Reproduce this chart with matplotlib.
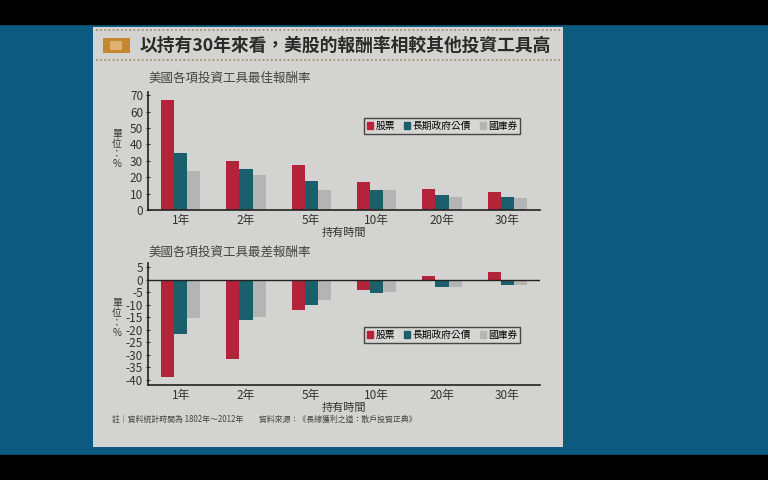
import matplotlib
matplotlib.use("Agg")
import matplotlib.pyplot as plt
from matplotlib.patches import Rectangle, Patch
from matplotlib.lines import Line2D
import numpy as np

plt.rcParams['font.family'] = ['Noto Sans CJK TC', 'DejaVu Sans']
plt.rcParams['axes.unicode_minus'] = False

periods = ['1年', '2年', '5年', '10年', '20年', '30年']
series = ['股票', '長期政府公債', '國庫券']
best_stock = [67, 30, 27.5, 17, 13, 11]
best_bond = [35, 25, 18, 12.5, 9, 8]
best_bill = [24, 21.5, 12, 12, 8, 7.5]
worst_stock = [-39, -31.5, -12, -4, 1.5, 3]
worst_bond = [-21.5, -16, -10, -5.5, -3, -2]
worst_bill = [-15.5, -15, -8, -5, -3, -2]
best_ticks = [0, 10, 20, 30, 40, 50, 60, 70]
worst_ticks = [5, 0, -5, -10, -15, -20, -25, -30, -35, -40]

title = '以持有30年來看，美股的報酬率相較其他投資工具高'
sub1 = '美國各項投資工具最佳報酬率'
sub2 = '美國各項投資工具最差報酬率'
note = '註｜資料統計時間為 1802年～2012年　　資料來源：《長線獲利之道：散戶投資正典》'

colors = ['#b3243a', '#1c5f6c', '#b4b4b4']
W, H = 768, 480
fig = plt.figure(figsize=(W / 100, H / 100), dpi=100)
fig.patch.set_facecolor('#0c5a80')

def fx(x):
    return x / W

def fy(y):
    return 1 - y / H

# black bars
fig.patches.append(Rectangle((0, fy(24)), 1, 24 / H, transform=fig.transFigure, color='black', zorder=-2))
fig.patches.append(Rectangle((0, 0), 1, (H - 455) / H, transform=fig.transFigure, color='black', zorder=-2))
# slide panel
fig.patches.append(Rectangle((fx(93), fy(447)), (563 - 93) / W, (447 - 27) / H,
                             transform=fig.transFigure, facecolor='#d3d3d1', edgecolor='none', zorder=-2))
# dotted lines
for yy in (30, 60):
    fig.add_artist(Line2D([fx(96), fx(560)], [fy(yy), fy(yy)], transform=fig.transFigure,
                          color='#a08868', lw=1.2, linestyle=(0, (1, 1.5))))
# icon
fig.patches.append(Rectangle((fx(103), fy(53)), 27 / W, 15 / H, transform=fig.transFigure,
                             facecolor='#c4862e', edgecolor='none', zorder=1))
fig.patches.append(Rectangle((fx(110), fy(50)), 12 / W, 9 / H, transform=fig.transFigure,
                             facecolor='#e0b070', edgecolor='none', zorder=2))
fig.text(fx(140), fy(46), title, fontsize=12.8, fontweight='bold', color='#2a2a2a', va='center', ha='left')

x = np.arange(len(periods))
bw = 0.2

def draw(ax, vals, ticks, ylim, legend_center):
    ax.set_zorder(5)
    for i, (v, c) in enumerate(zip(vals, colors)):
        ax.bar(x + (i - 1) * bw, v, width=bw, color=c, label=series[i], zorder=2)
    ax.set_xlim(-0.5, 5.5)
    ax.set_ylim(*ylim)
    ax.set_yticks(ticks)
    ax.set_xticks(x)
    ax.set_xticklabels(periods)
    ax.set_facecolor('none')
    for s in ('top', 'right'):
        ax.spines[s].set_visible(False)
    for s in ('left', 'bottom'):
        ax.spines[s].set_color('#222222')
        ax.spines[s].set_linewidth(1.2)
    ax.tick_params(axis='y', labelsize=8.5, colors='#333333', length=3, direction='inout', pad=2)
    ax.tick_params(axis='x', labelsize=8.5, colors='#333333', length=0, pad=3)
    ax.set_xlabel('持有時間', fontsize=8, color='#333333', labelpad=0)
    leg = ax.legend(handles=[Patch(color=c, label=s) for c, s in zip(colors, series)], ncol=3,
                    loc='center', bbox_to_anchor=legend_center, bbox_transform=fig.transFigure,
                    fontsize=7, frameon=True, fancybox=False, handlelength=0.7, handleheight=0.7,
                    handletextpad=0.2, columnspacing=0.9, borderpad=0.3)
    leg.get_frame().set_edgecolor('#222222')
    leg.get_frame().set_linewidth(1.0)
    leg.get_frame().set_facecolor('#d8d8d6')

ax1 = fig.add_axes([fx(148), fy(210), (540 - 148) / W, (210 - 92) / H])
draw(ax1, [best_stock, best_bond, best_bill], best_ticks, (0, 72), (fx(442), fy(126)))
ax2 = fig.add_axes([fx(148), fy(385), (540 - 148) / W, (385 - 263) / H])
draw(ax2, [worst_stock, worst_bond, worst_bill], worst_ticks, (-42, 6.6), (fx(442), fy(335)))
ax2.axhline(0, color='#222222', lw=1.0, zorder=3)

fig.text(fx(148), fy(78), sub1, fontsize=9, color='#444444', va='center', ha='left')
fig.text(fx(148), fy(252), sub2, fontsize=9, color='#444444', va='center', ha='left')
fig.text(fx(117), fy(149), '單\n位\n：\n%', fontsize=7, color='#333333', va='center', ha='center', linespacing=1.0)
fig.text(fx(117), fy(318), '單\n位\n：\n%', fontsize=7, color='#333333', va='center', ha='center', linespacing=1.0)
fig.text(fx(112), fy(419), note, fontsize=5.7, color='#444444', va='center', ha='left')

fig.savefig('out.png', dpi=100, facecolor=fig.get_facecolor())
